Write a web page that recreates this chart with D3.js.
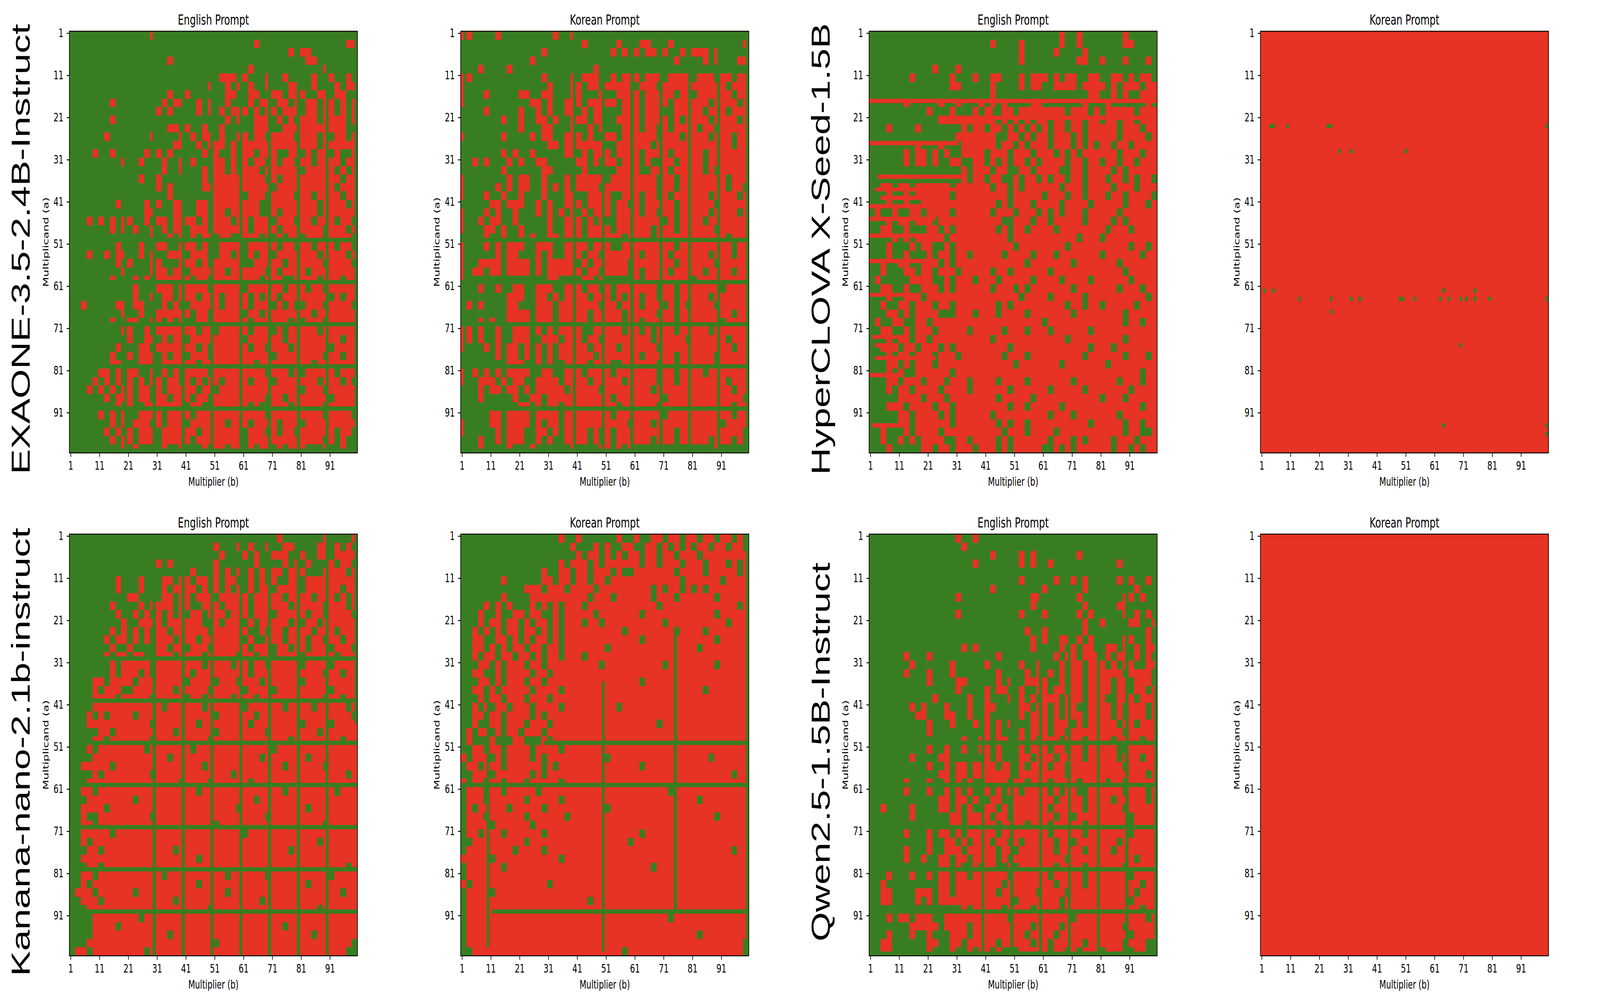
<!DOCTYPE html>
<html><head><meta charset="utf-8">
<script src="https://cdn.jsdelivr.net/npm/d3@7"></script>
<style>html,body{margin:0;padding:0;background:#fff;overflow:hidden;width:100%;height:100%}svg{display:block;width:100vw;height:100vh}</style>
</head><body>
<svg id="chart" viewBox="0 0 5998 2574" preserveAspectRatio="none"></svg>
<script>
// ---------------- DATA ----------------
const modelNames = ["EXAONE-3.5-2.4B-Instruct", "HyperCLOVA X-Seed-1.5B", "Kanana-nano-2.1b-instruct", "Qwen2.5-1.5B-Instruct"];
const promptTitles = ["English Prompt", "Korean Prompt"];
const cellValues = d3.range(1, 101);            // multiplicand (a) and multiplier (b): 1..100
const tickLabels = [1, 11, 21, 31, 41, 51, 61, 71, 81, 91];
const xAxisTitle = "Multiplier (b)";
const yAxisTitle = "Multiplicand (a)";
const colors = { correct: "#397d22", wrong: "#e63323" };

// Each string = one pair of multiplicand rows; each digit = a 2x2 group of cells (1 = wrong, 0 = correct)
const exaoneEnglishBlocks = [
"0000000000 0000100000 0000000000 0000000000 0000000000",
"0000000000 0000000000 0000000000 0010000000 0000000011",
"0000000000 0000000000 0000000000 0000000010 1100000000",
"0000000000 0000000100 0000000000 0000000000 0110000000",
"0000000000 0000000000 0000000000 0100000000 0000100000",
"0000000000 0000000000 0000001110 1000100100 0010010010",
"0000000000 0000000000 0000100101 0100100011 0010001011",
"0000000000 0000000100 1000000110 0110011011 1001101100",
"0000000100 0000001011 0010100100 0101101101 0110110101",
"0000000000 0000010100 0010101011 1010110111 0110110101",
"0000000100 0000000000 0000000101 0011101010 1110111101",
"0000000000 0000000110 1001001000 0011100111 1111111100",
"0000001000 0000100001 0101101001 1011011110 1110101101",
"0000000000 0000000011 0010111010 1111111111 1110111111",
"0000100100 0001010100 0001010010 1101110011 0101101001",
"0000000001 0010001001 0100011010 1011010110 1101111011",
"0000000000 0000001001 0001011010 1110111111 0111110101",
"0000000000 0010010000 0001011111 1111010111 1111111011",
"0000000000 0000010100 0001111111 1111101111 1111110111",
"0000000000 0000000100 0000011111 0111011110 1101111011",
"0000000010 0001010011 0011011111 1110011111 1110111101",
"0000000000 0001100011 0011011011 1110010111 1110111111",
"0001010101 1001011011 1101011101 1011101110 1101110110",
"0000000101 0100101011 0111011111 1011110111 1111011101",
"0000000000 0000100101 0101101100 1110101011 0111011110",
"0000000010 0010011001 1101001111 0111110110 1101110110",
"0001001011 0010100111 0111001101 0101101111 1110111101",
"0000000010 1000110001 1101011111 0011111011 1111011110",
"0000000001 0000111011 0111111011 1111010111 1011111111",
"0000000100 0101011111 1011011111 1110111001 1110111011",
"0000000000 0100011101 1111011111 0111111011 1011011111",
"0000000000 0100101101 1101110111 1010110111 1111101011",
"0010000011 0110001010 0111110111 1011101010 0111011110",
"0000000001 0010011111 1011011111 0110111111 1101111111",
"0000000100 1100110101 0011011111 1011111101 0111011111",
"0000000001 1001011111 1101101111 1011101011 1110111111",
"0000000000 1001101011 0111111111 0111111011 1111111011",
"0000000010 0011011111 1101011111 1011011101 1111101111",
"0000000100 1011101011 0111011111 1111101111 1111011011",
"0000000110 0011101111 1101111111 1101111111 1101111111",
"0000011010 1100101010 1111011111 1111011101 0111110111",
"0000101010 1010110110 1010110111 1011101111 1110111010",
"0001010101 1011010111 1101101111 1111111111 0111011111",
"0000001011 1011011011 1011011111 1111011011 1111101111",
"0000000010 1001111111 0110011111 1010011101 1111011111",
"0000010101 0011110111 1011111111 1111011111 1111011110",
"0000000101 0111010111 0111111011 1011110111 0111111111",
"0000001010 1011101111 1101111111 0111010110 1111110110",
"0000000101 1011101111 1011111111 0111111111 1111010100",
"0000000001 0100001001 0001011011 0101101011 1000100100"
];
// [axis, index, from, to, value]: whole multiplier columns / multiplicand rows
const exaoneEnglishLines = [
["col",1,1,100,0],["col",20,1,100,0],["col",30,1,100,0],["col",40,1,100,0],["col",50,1,100,0],["col",60,1,100,0],
["col",70,1,100,0],["col",80,1,100,0],["col",90,1,100,0],["col",100,1,100,0],
["row",50,1,100,0],["row",60,1,100,0],["row",70,1,100,0],["row",80,1,100,0],["row",90,1,100,0],["row",100,1,100,0]
];

const exaoneKoreanBlocks = [
"1100001000 0000001001 0000000000 0000000000 0000000000",
"0000000000 0000000000 0100000100 0110001000 0000000001",
"0000000000 0000100000 0000001010 1011010010 1110100000",
"0000000000 0010000000 0000000000 0000000100 0010100011",
"0001000010 0000000000 0001000000 0000000000 0000000000",
"1100000000 0000100001 0111001011 1011101111 0111011011",
"1000000000 0000010001 1011011111 0111011111 1111110111",
"1000100000 1100110001 1000100111 1011111011 0111111011",
"1000000000 0011010011 1011111011 1011110111 1110111101",
"0000100000 1001010011 0101100011 1011100111 1101110111",
"0000000100 1001101001 1101100111 1011110101 1110111101",
"0000000000 1000110001 0010100011 1011010111 1011011111",
"1000000100 0010110011 1010011011 1111011101 1110111011",
"0000000000 0000011011 1111100111 1110111111 1111111011",
"0000000101 0010000011 0101110111 1011110111 1101111111",
"0010100010 1001100000 1101011011 1010011011 1101111111",
"0000000100 0000110000 0100000111 1001110111 1101011111",
"1000000010 1100100010 1111101111 1111011011 1111110111",
"1000001010 1100101010 1111011111 1111011011 1111110110",
"1000100100 1000100011 0011110011 1011010111 1110111101",
"0000011011 1001010011 1011110110 1011111011 1111011111",
"1000101001 0001010101 0101110111 1011011011 1110111101",
"1001011001 0000010011 1010100111 1111101011 1101111111",
"1000110100 1000010011 1011110111 1110111011 1111011111",
"0000100100 1010011011 1011111101 1110111111 1111110111",
"1000101011 1001110011 1101110011 1111111011 1111111011",
"1000001011 0001010011 1011011111 1011110111 1110111011",
"1001111011 1101011111 0101111110 1111111011 1111011111",
"1011011011 1101011111 1011011110 1011110111 1101111011",
"1000000000 0000011000 0110100000 1011111111 0111111111",
"0001001001 1001110011 1011010111 1111011011 1111101111",
"0000000011 1001101011 1101110101 1011011011 1110111111",
"0101000011 0001110111 1111011011 1011101010 1111011111",
"0000000011 1101110111 1101111101 1111011011 1111111011",
"0001010011 1101110111 1101111101 1011111011 1111101111",
"1101001001 1101010111 1001111101 1010111011 1110111111",
"1101001001 1100111011 1011011111 1110111110 1111110111",
"1000101011 0101010111 1101111011 1111011111 1111111011",
"0000001011 0101010111 1110111111 1011111011 1111011111",
"0000000011 1001010011 1101110011 1111011011 1111011111",
"1010101011 1100110011 1011110111 1111011011 1101111111",
"1001110101 1001111011 1101111101 1111011011 1111110111",
"0001011011 0101111101 1111011111 1110111111 1111111011",
"0001000001 0011011111 1111110111 1111101111 1111111110",
"0000000000 1101011011 1111111011 1111011111 1111111011",
"0000011011 1101111011 1111110111 1111101111 1111111011",
"1000011011 1101011011 1111111110 1110111111 1111101111",
"1000001011 1001101011 1101010111 1111111011 1111111110",
"0001001011 1001010011 1101010111 1110111011 1110111010",
"0001000010 0010000001 0000110101 0000000000 0000100000"
];
const exaoneKoreanLines = [
["col",2,1,100,0],["col",40,1,100,0],["col",50,1,100,0],["col",60,1,100,0],["col",70,1,100,0],
["col",80,1,100,0],["col",90,1,100,0],["col",100,1,100,0],
["row",50,1,100,0],["row",60,1,100,0],["row",70,1,100,0],["row",80,1,100,0],["row",90,1,100,0],["row",100,1,100,0]
];

const hyperEnglishBlocks = [
"0000000000 0000000000 0000000000 0001001000 0000100000",
"0000000000 0000000000 0100001000 0001001000 0000110000",
"0000000000 0000000000 0000001000 0010000100 0000000000",
"0000000000 0000000000 0000001000 0000001100 1000100010",
"0000000000 0100010000 0000000000 0000000000 0000000000",
"0000000100 0000100010 0110001011 1010110011 0011010110",
"0000000000 0000110000 0100001011 0011110111 1010111011",
"0000000000 0000000000 0100000000 0000000011 0010100111",
"0000001000 0010010001 0101000011 0000000100 0100000010",
"0000000000 1000100010 1001101111 1111011101 0111110111",
"0000000000 0011111111 1101010101 1011011011 0110110111",
"0001000010 0000001011 0110101010 1011011011 1110111011",
"0000000000 0000011111 1100110101 1011101011 1110111101",
"0000000010 0010001111 1101101011 1011101010 1101101111",
"0000001011 0101001111 0111011101 1101010111 1110111011",
"0000001011 0100110011 0101011010 1111011011 0110110111",
"0000000000 0000001011 1011001101 1110011011 1101011111",
"0000000000 0000001011 0110010110 1011011011 1011010110",
"0011011011 1111011111 1011010111 1110111011 1101110111",
"0001001011 1111011111 1111011111 0111011011 1011011110",
"0001001001 1111111111 1101011101 1110111101 1111011101",
"0100100110 1111011111 1011101110 1010111011 1110111111",
"0001011011 1011111111 1110011101 1011111011 1101011111",
"0011001000 1101011111 1101011011 1101111111 1011101111",
"0000101011 1110111111 1111011111 1111110111 0111111111",
"0001000101 1001011111 1111101111 1111011111 1111101101",
"0001001000 1011011011 1110111101 1101111111 0111111011",
"0010011001 1101011111 1111111011 1111101111 1110111111",
"0010001101 1011101111 1011011111 1011111111 1111011111",
"0100000111 1001011101 1101111101 1110111101 1111101111",
"0011001001 1101011111 1011101011 1111101111 1110111011",
"0001001110 1111111111 1111110111 1011111011 1111111101",
"0010011011 1011011111 1101011111 1111011011 0111110111",
"0001101011 1100011101 1101111011 1111101111 1111011111",
"0100110011 0111111111 1111111111 0111111111 1111011011",
"0011001011 1011111011 1110111011 1011111101 1111111111",
"0001011011 0111111111 1011111111 1111011111 1111011111",
"0011101101 1101011111 1111011111 1111111101 1101111111",
"0001011011 1011101111 1110111011 1111111011 1111011101",
"0001101011 1011111111 1111101111 1110111111 1011111111",
"0001010011 1111011111 1111111111 1111111111 1111111011",
"0001101110 1110111011 1101111011 1111101111 1110111011",
"0001011011 1101111011 1111011111 1011111011 1111101111",
"0000011110 1110111111 1101111101 1111111111 0111011111",
"0001110111 1011011111 1111011011 1110111111 1111111011",
"0000011011 1101011111 1011111111 1011101111 1110111111",
"0000011011 1111011111 1101011011 1111111101 1111011011",
"0010001011 1101111111 1110111011 1101111111 1111011001",
"0010010101 1110011011 1101011111 1011101011 1101110111",
"0001000001 1011011101 1101011111 0010101111 1101101011"
];
const hyperEnglishLines = [
["row",17,1,100,1],["row",21,25,100,1],["row",27,1,31,1],["row",35,4,32,1],["row",38,3,30,1],["row",40,5,23,1],
["row",42,1,23,1],["row",45,1,23,1],["row",49,1,23,1],["row",55,1,23,1],["row",63,1,18,1],["row",73,2,10,1],
["row",75,3,10,1],["row",78,3,23,1],["row",82,1,11,1],["row",94,2,10,1],["col",43,11,26,1]
];

// HyperCLOVA X with Korean prompt: nearly all wrong; the few correct cells [a, b]
const hyperKoreanCorrectCells = [
[23,4],[23,5],[23,10],[23,24],[23,25],[23,100],[29,28],[29,32],[29,51],
[62,2],[62,5],[62,64],[62,75],
[64,14],[64,25],[64,32],[64,35],[64,49],[64,50],[64,54],[64,63],[64,66],[64,70],[64,72],[64,75],[64,80],[64,100],
[67,25],[75,70],[94,64],[94,100],[96,100]
];

const kananaEnglishBlocks = [
"0000000000 0000000000 0000000000 0000001000 0000100001",
"0000000000 0000000000 0000010001 0100100110 0001101010",
"0000000000 0000000000 0000001000 1010011100 1001101111",
"0000000000 0000010100 0000010000 0010000101 0100010110",
"0000000000 0000000000 0100010101 0101011011 1000111101",
"0000000010 0010001101 1011010110 0101010011 0111111111",
"0000000010 0010001011 1101010101 0101101111 0111111011",
"0000000000 1100001101 1011101111 1011111011 1101110101",
"0000000100 0010111101 1001110111 1011111101 1111011101",
"0000000010 0101010101 0110111011 1011101111 1011011110",
"0000000001 0011110111 1110010111 0101111101 0110111111",
"0000000101 0101011011 1111011111 1001011011 1101110111",
"0000001011 0101011101 1101111111 0100111011 1011011011",
"0000000100 1000011011 0111011111 1011101101 1011101110",
"0000001011 0110011101 1110111110 1101101111 0111110111",
"0000000101 1111011111 1110111101 1011011111 0111101111",
"0000000101 1101011111 1011111111 1011111111 1111011011",
"0000110111 1011111111 0111101110 1110111111 0111111111",
"0000101110 0111111101 1111011111 0111101111 1111101111",
"0000111101 1111011111 0110111101 1101111111 1111011011",
"0000111111 1111110111 1110111111 0111111011 1101111101",
"0001010111 1011111111 1111101111 1101111111 1111111110",
"0001111111 1111011111 1101111111 1011111111 0111101111",
"0000011011 1111111101 1111101111 1111011111 1110111111",
"0000110111 1111011111 1111011111 1111111101 1111111011",
"0001011111 1110111111 1011111111 1111101111 1111111111",
"0000111111 1111111011 1111111111 1110111111 1011111111",
"0011111011 1111111111 1110111111 1111111011 1111011111",
"0000101111 1111011111 1111111101 1111111111 1111111101",
"0001111111 1111111110 1111011111 1011111111 1111111111",
"0011011111 1111111111 1101111111 1111111011 1111110111",
"0001111111 1011111111 1111111111 1101111111 1111111111",
"0011110111 1111111111 1111111110 1111111111 1011111111",
"0010011111 1111011111 1111111111 1111011111 1111111111",
"0011011111 1111111111 1111101111 1111111111 1111011111",
"0011111011 1111111111 1111111111 0111111111 1111111111",
"0010111111 1111111111 1111111111 1111111111 1110111111",
"0001101111 1111111101 1111111111 1111111101 1111111111",
"0011111111 1111111111 1101111111 1111111111 1111111111",
"0001101111 1111111111 1111111111 1111111111 1111111101",
"0011011111 1111110111 1111111011 1111011111 1111101111",
"0010111111 1111111111 1101111111 1111111111 1011111111",
"0111011111 1011111111 1111111011 1111111111 1111111011",
"0011101111 1111111101 1111111111 1110111111 1111111111",
"0001111111 1111111111 1111011111 1111111111 1110111111",
"0000111111 1101111111 1111111111 1111111111 1111111111",
"0000111101 1111111111 1111111111 1111111011 1111111111",
"0000111111 1111111011 1111111111 1111111111 1101111111",
"0001111111 1111111111 1111101111 1111111111 1111111110",
"0110111111 1110111111 1111111111 1111111111 1111111100"
];
const kananaEnglishLines = [
["col",30,1,100,0],["col",40,1,100,0],["col",50,1,100,0],["col",60,1,100,0],["col",70,1,100,0],["col",80,1,100,0],
["col",90,1,100,0],["col",100,1,45,0],
["row",30,1,100,0],["row",40,1,100,0],["row",50,1,100,0],["row",60,1,100,0],["row",70,1,100,0],["row",80,1,100,0],["row",90,1,100,0]
];

const kananaKoreanBlocks = [
"0000000000 0000000100 1000000100 1001101101 1011011010",
"0000000000 0000000001 0001010011 0011010101 0110110110",
"0000000000 0000000000 1011010101 1011011011 1011111111",
"0000000000 0000000101 1101011111 1011011101 1101110101",
"0000000000 0000100110 1101110100 1111111011 1101111101",
"0000000100 0000110110 1101101111 1111111101 1111101111",
"0000000000 0111011101 1110111111 1110101101 0101111111",
"0000000100 0011111111 1101110111 1110111011 1111011111",
"0000101010 0010101011 1011111111 1111011111 1111111101",
"0001001001 1011001011 1110111111 1011111111 1111011111",
"0001011011 0101101011 1011011111 1111101111 1111110111",
"0010101011 0110101011 1111111101 1111111011 1101111111",
"0011001101 0101101011 1111111111 1011111111 1111011111",
"0011010101 1011011011 1111101111 1111111111 1011111111",
"0010110110 1101011011 1011111111 1111111111 1111111111",
"0001101011 1011011111 1111011111 1111101111 1111011111",
"0011001011 1101101111 1111111111 1111111111 1111111111",
"0001101011 1011011111 1111111111 1011111111 1111111111",
"0011010111 1101111011 1111111111 1111111111 1101111111",
"0001011011 1011101111 1111111111 1111111111 1111111111",
"0010101101 1101111011 1111111011 1111111111 1111111111",
"0011011011 1101011111 1111111111 1111111111 1111111111",
"0010011011 1011101111 1111111111 1111011111 1111111111",
"0101101011 0111011111 1111111111 1111111111 1111111111",
"0100010001 1000101111 1111111111 1111111111 1111111111",
"0011011011 1101111011 1111111111 1111111111 1111111111",
"1011101011 1101011111 1111101111 1111111111 1110111111",
"0110111011 1111010111 1111111111 1011111111 1111111111",
"0011101111 1101011111 1111111111 1111111111 1111111011",
"1011011011 1011111011 1111111111 1111111111 1111111111",
"0111011011 1110111111 1111111111 1111110111 1111111111",
"0111011111 1011111011 1111111111 1111111111 1011111111",
"0101111101 1111011111 1111101111 1111111111 1111111111",
"0111011111 1011111101 1111111111 1111111111 1111011111",
"0111101111 1101111111 1111111111 1111111111 1111111111",
"0110111011 1111011111 1111111111 1011111111 1111111111",
"0011111111 1011111111 1111111110 1111111111 1111111111",
"0111111110 1111011111 1111111111 1111111111 1111111011",
"1111101111 1111111011 1111111111 1111111111 1111111111",
"0111111011 1111111111 1111111111 1110111111 1111111111",
"0111111111 1111111111 1111111111 1111111111 1111111111",
"1011111111 1111101111 1111111111 1111111111 1111111111",
"0111101111 1111111111 1111111111 1111111111 1111111111",
"0111111111 1111111111 1101111111 1111111111 1111111111",
"0111111111 1111111111 1111111111 1111111111 1111111111",
"0111111111 1111111111 1111111111 1111110111 1111111111",
"0111111111 1111111111 1111111111 1111111111 1111111111",
"0111111111 1111111111 1111111111 1111111111 1011111111",
"0111111111 1111111111 1111111111 1111111111 1111111110",
"0011111111 1111111111 1111111101 1111111111 1111111110"
];
const kananaKoreanLines = [
["col",100,1,100,0],["col",10,41,98,0],["col",50,36,99,0],["col",75,25,90,0],
["row",50,30,100,0],["row",60,1,100,0],["row",90,12,100,0]
];

const qwenEnglishBlocks = [
"0000000000 0000010010 0000000000 0000000000 0000000000",
"0000000000 0000001000 0000000000 0000000000 0000000000",
"0000000000 0000000000 0100001010 0000001000 0000000000",
"0000000000 0000000010 0000001010 0100000000 0001000000",
"0000000000 0000000000 0000000000 0000000000 0000000000",
"0000000000 0000000000 0000001000 0010010100 0001010010",
"0000000000 0000000000 0100000000 1000000100 0000001000",
"0000000000 0000010000 0000000011 0000001000 0000110100",
"0000000000 0000000000 0000000010 0000000100 0001100000",
"0000000000 0000010000 0000001000 1000001010 0000101010",
"0000000000 0000000000 0000000000 0000000100 1000011001",
"0000000000 0000000000 0000000100 1000000100 0000000010",
"0000000000 0000000000 0000000010 1001101010 0000110010",
"0000000000 0000001010 0000000010 0001010110 0110101011",
"0000001000 1000000000 0010000000 0010110111 0101101010",
"0000000100 0000100000 1000001001 0001011011 1010110011",
"0000001000 1000100000 0010000101 0101011011 1111011110",
"0000000000 1000011000 0010100111 1001011011 1101101110",
"0000000000 0000010000 1011001001 1011011011 1101101101",
"0000000000 0100000100 1000101010 1110111011 1001110111",
"0000000101 0001000100 1100001101 1010110011 1101011101",
"0000000011 0001100100 1000001011 1010111011 1101011101",
"0000000000 1000100010 1010100011 1011101011 1110110111",
"0000000000 1000000000 1010001011 1011011111 1111011111",
"0000000000 0000001001 1011001010 1110111011 1101111011",
"0000000000 1001001001 1010001011 1011011011 1110011111",
"0000000100 0011000000 1010001101 1101111011 1110111011",
"0000000000 1001011011 1101101011 1011011111 1111011111",
"0000000000 0011011011 1111101111 1111011111 1111111101",
"0000001000 1001010100 1111011011 1011110111 1011011111",
"0000001000 1001010100 1010110111 1010110011 1111011101",
"0000000000 0011011010 0110011111 1101111011 1101111101",
"0010000100 0011010100 1101011111 1011111011 1111011111",
"0000000100 0000110111 1011011111 1101101111 1111101111",
"0000000000 0000110111 1101111011 1011111011 1111101111",
"0000001000 1011010111 1101111111 1011111011 1111101111",
"0000000000 1001101011 1011010111 1101101111 1110111111",
"0000001000 1001110111 1101101111 1101111011 1101111111",
"0000001001 0011011011 1101011111 1111011111 1111110111",
"0000000000 0011010010 1100101111 1101111011 1111011111",
"0001000100 1011011011 1111011111 1011111011 1111101111",
"0010000000 0011011111 1110111111 1101111011 1111111011",
"0011000011 1011011111 1101111110 1111011111 1111110111",
"0011000010 1011111111 1111101111 1110111111 1111101111",
"0000000000 0000001011 1110111101 1110111111 1111111011",
"0001011011 1001111111 1111011111 1111101111 1111111101",
"0000000111 1101111011 1111111101 1110111111 1111011111",
"0001000100 1000111011 1111111011 1101111111 1111101111",
"0011000000 1100110111 1101111101 1011111011 1111011100",
"0011000000 1000100101 1010001111 1011010111 0111001100"
];
const qwenEnglishLines = [
["col",40,1,100,0],["col",50,1,100,0],["col",60,1,100,0],["col",70,1,100,0],["col",80,1,100,0],["col",90,1,100,0],
["col",100,1,100,0],
["row",50,1,100,0],["row",60,1,100,0],["row",70,1,100,0],["row",80,1,100,0],["row",90,1,100,0],["row",100,1,100,0]
];

// Qwen with Korean prompt: every product wrong (no correct cells)
const qwenKoreanCorrectCells = [];

// ---------------- PANELS ----------------
const panels = [
  { model: 0, prompt: 0, blocks: exaoneEnglishBlocks, lines: exaoneEnglishLines },
  { model: 0, prompt: 1, blocks: exaoneKoreanBlocks, lines: exaoneKoreanLines },
  { model: 1, prompt: 0, blocks: hyperEnglishBlocks, lines: hyperEnglishLines },
  { model: 1, prompt: 1, base: 1, cells: hyperKoreanCorrectCells },
  { model: 2, prompt: 0, blocks: kananaEnglishBlocks, lines: kananaEnglishLines },
  { model: 2, prompt: 1, blocks: kananaKoreanBlocks, lines: kananaKoreanLines },
  { model: 3, prompt: 0, blocks: qwenEnglishBlocks, lines: qwenEnglishLines },
  { model: 3, prompt: 1, base: 1, cells: qwenKoreanCorrectCells }
];

function buildGrid(p) {
  const rows = p.blocks ? p.blocks.map(s => s.replace(/ /g, "")) : null;
  const g = cellValues.map(a => cellValues.map(b =>
    rows ? +rows[(a - 1) >> 1][(b - 1) >> 1] : p.base));
  (p.lines || []).forEach(([axis, idx, from, to, v]) => {
    for (let k = from; k <= to; k++) {
      if (axis === "row") g[idx - 1][k - 1] = v; else g[k - 1][idx - 1] = v;
    }
  });
  (p.cells || []).forEach(([a, b]) => { g[a - 1][b - 1] = 1 - p.base; });
  return g;
}

function runsOf(g) {
  const runs = [];
  cellValues.forEach(a => {
    const row = g[a - 1];
    let s = 1;
    for (let b = 2; b <= 101; b++) {
      if (b === 101 || row[b - 1] !== row[s - 1]) {
        runs.push({ a: a, start: s, end: b - 1, v: row[s - 1] });
        s = b;
      }
    }
  });
  return runs;
}

// ---------------- LAYOUT ----------------
const size = 1080;
const lefts = [260, 1727, 3258, 4725];
const tops = [80, 1368];
const FONT = "'DejaVu Sans', sans-serif";

const svg = d3.select("#chart");
svg.append("rect").attr("width", 5998).attr("height", 2574).attr("fill", "#fff");

const x = d3.scaleBand().domain(cellValues).range([0, size]).paddingInner(0).paddingOuter(0);
const y = d3.scaleBand().domain(cellValues).range([0, size]).paddingInner(0).paddingOuter(0);

panels.forEach((p, i) => {
  const r = Math.floor(i / 4), c = i % 4;
  const g = svg.append("g").attr("transform", `translate(${lefts[c]},${tops[r]})`);
  const grid = buildGrid(p);
  g.append("g").selectAll("rect").data(runsOf(grid)).join("rect")
    .attr("x", d => x(d.start))
    .attr("y", d => y(d.a))
    .attr("width", d => x(d.end) - x(d.start) + x.bandwidth())
    .attr("height", y.bandwidth())
    .attr("fill", d => d.v ? colors.wrong : colors.correct)
    .attr("shape-rendering", "crispEdges");

  const xa = g.append("g").attr("transform", `translate(0,${size})`)
    .call(d3.axisBottom(x).tickValues(tickLabels).tickSize(10).tickPadding(12));
  const ya = g.append("g")
    .call(d3.axisLeft(y).tickValues(tickLabels).tickSize(10).tickPadding(12));
  [xa, ya].forEach(ax => {
    ax.select(".domain").remove();
    ax.attr("font-family", FONT).attr("font-size", 29.5);
    ax.selectAll("line").attr("stroke", "#000").attr("stroke-width", 2.4);
    ax.selectAll("text").attr("fill", "#000");
  });

  g.append("rect").attr("width", size).attr("height", size)
    .attr("fill", "none").attr("stroke", "#000").attr("stroke-width", 2.4);

  g.append("text").attr("x", size / 2).attr("y", -17).attr("text-anchor", "middle")
    .attr("font-family", FONT).attr("font-size", 35.5).text(promptTitles[p.prompt]);
  g.append("text").attr("x", size / 2).attr("y", size + 84).attr("text-anchor", "middle")
    .attr("font-family", FONT).attr("font-size", 29.5).text(xAxisTitle);
  g.append("text").attr("transform", `translate(-79,${size / 2}) rotate(-90)`)
    .attr("text-anchor", "middle").attr("font-family", FONT).attr("font-size", 29.5).text(yAxisTitle);

  if (c % 2 === 0) {
    g.append("text").attr("transform", `translate(-148,${size / 2 + 18}) rotate(-90)`)
      .attr("text-anchor", "middle")
      .attr("font-family", "'Liberation Sans', Arial, Helvetica, sans-serif")
      .attr("font-size", 97).attr("fill", "#000").text(modelNames[p.model]);
  }
});
</script>
</body></html>
